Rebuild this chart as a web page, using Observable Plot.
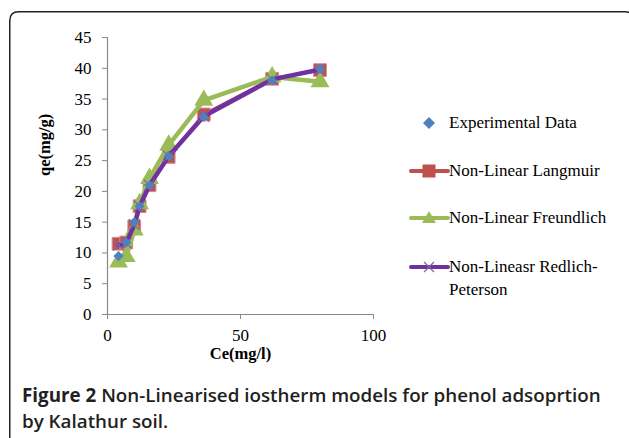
<!DOCTYPE html>
<html>
<head>
<meta charset="utf-8">
<script src="https://cdn.jsdelivr.net/npm/d3@7"></script>
<script src="https://cdn.jsdelivr.net/npm/@observablehq/plot@0.6"></script>
<style>
  html, body { margin: 0; padding: 0; background: #fff; }
  body { width: 629px; height: 438px; position: relative; overflow: hidden; }
  #frame { position: absolute; left: 0; top: 0; z-index: 10; pointer-events: none; }
  #chart { position: absolute; left: 0; top: 0; }
  #legend { position: absolute; left: 405px; top: 0; font-family: "Liberation Serif", "Times New Roman", serif; font-size: 17px; color: #000; }
  .item { position: absolute; left: 0; white-space: nowrap; }
  .item svg { position: absolute; left: 0; top: 0; }
  .item span { position: absolute; left: 44px; top: 0; line-height: 23px; }
  #caption { position: absolute; left: 22px; top: 382px; width: 600px; font-family: "Open Sans", "Noto Sans", sans-serif;
             font-size: 18.8px; line-height: 26px; color: #231f20; font-weight: 600; white-space: nowrap; }
  #caption b { font-weight: 700; }
</style>
</head>
<body>
<svg id="frame" width="629" height="438"><path d="M9.75,438 L9.75,20.75 Q9.75,11.75 18.75,11.75 L625,11.75 Q631,11.75 633,16" fill="none" stroke="#222" stroke-width="1.5"/></svg>
<div id="chart"></div>
<div id="legend"></div>
<div id="caption"><b>Figure 2</b> <span>Non-Linearised iostherm models for phenol adsoprtion</span><br><span>by Kalathur soil.</span></div>
<script>
const ce = [4.15, 7.05, 10.06, 12.07, 15.8, 23.0, 36.2, 61.9, 79.9];
const experimental = [9.5, 11.7, 15.0, 17.6, 21.0, 25.7, 32.1, 38.0, 39.9];
const langmuir = [11.5, 11.7, 14.3, 17.6, 21.0, 25.6, 32.5, 38.3, 39.7];
const freundlich = [8.5, 9.4, 13.7, 18.0, 22.1, 27.5, 34.8, 38.6, 37.8];
const redlich = [11.3, 11.6, 14.6, 17.6, 21.0, 25.7, 32.2, 38.2, 39.8];
const xTicks = [0, 50, 100];
const yTicks = [0, 5, 10, 15, 20, 25, 30, 35, 40, 45];

const seriesNames = ["Experimental Data", "Non-Linear Langmuir", "Non-Linear Freundlich", "Non-Lineasr Redlich-Peterson"];
const colors = { blue: "#4F81BD", red: "#C0504D", green: "#9BBB59", purple: "#7030A0", purpleMark: "#8064A2" };

const rows = (vals) => ce.map((c, i) => ({ ce: c, q: vals[i] }));
const expData = rows(experimental), lanData = rows(langmuir), freData = rows(freundlich), redData = rows(redlich);

const serif = "Liberation Serif, Times New Roman, serif";
const chart = Plot.plot({
  width: 400,
  height: 374,
  marginLeft: 107,
  marginRight: 27,
  marginTop: 37,
  marginBottom: 60,
  style: { fontFamily: serif, fontSize: "17px", color: "#000", background: "transparent", overflow: "visible" },
  x: { domain: [0, 100] },
  y: { domain: [0, 45] },
  marks: [
    Plot.ruleY([0], { stroke: "#888", strokeWidth: 1.2 }),
    Plot.ruleX([0], { stroke: "#888", strokeWidth: 1.2 }),
    Plot.axisX({ ticks: xTicks, tickSize: 5, tickPadding: 9, stroke: "#888", fontSize: 17, label: null }),
    Plot.axisY({ ticks: yTicks, tickSize: 5, tickPadding: 11, stroke: "#888", fontSize: 17, label: null }),
    Plot.text(["Ce(mg/l)"], { frameAnchor: "bottom", dy: 44, fontWeight: "bold", fontSize: 16.5 }),
    Plot.text(["qe(mg/g)"], { frameAnchor: "left", dx: -63, rotate: -90, fontWeight: "bold", fontSize: 16.5 }),
    Plot.line(lanData, { x: "ce", y: "q", stroke: colors.red, strokeWidth: 3 }),
    Plot.dot(lanData, { x: "ce", y: "q", symbol: "square", r: 7.2, fill: colors.red, stroke: "#d98a88", strokeWidth: 1 }),
    Plot.line(freData, { x: "ce", y: "q", stroke: colors.green, strokeWidth: 4.5 }),
    Plot.dot(freData, { x: "ce", y: "q", symbol: "triangle", r: 7, fill: colors.green }),
    Plot.line(redData, { x: "ce", y: "q", stroke: colors.purple, strokeWidth: 4.5 }),
    Plot.dot(redData, { x: "ce", y: "q", symbol: "times", r: 5, stroke: colors.purpleMark, strokeWidth: 1.2 }),
    Plot.dot(expData, { x: "ce", y: "q", symbol: "diamond2", r: 4.6, fill: colors.blue })
  ]
});
document.getElementById("chart").appendChild(chart);

// Legend
const legend = document.getElementById("legend");
const legendItems = [
  { name: seriesNames[0], top: 111, line: null, sym: "diamond", color: colors.blue },
  { name: seriesNames[1], top: 159, line: colors.red, sym: "square", color: colors.red },
  { name: seriesNames[2], top: 206, line: colors.green, sym: "triangle", color: colors.green },
  { name: seriesNames[3], top: 255, line: colors.purple, sym: "x", color: colors.purpleMark }
];
for (const it of legendItems) {
  const div = document.createElement("div");
  div.className = "item";
  div.style.top = it.top + "px";
  let shape = "";
  const cx = 24, cy = 12;
  if (it.sym === "diamond") shape = `<path d="M${cx},${cy-6}L${cx+6},${cy}L${cx},${cy+6}L${cx-6},${cy}Z" fill="${it.color}"/>`;
  if (it.sym === "square") shape = `<rect x="${cx-6.5}" y="${cy-6.5}" width="13" height="13" fill="${it.color}"/>`;
  if (it.sym === "triangle") shape = `<path d="M${cx},${cy-7}L${cx+7},${cy+5}L${cx-7},${cy+5}Z" fill="${it.color}"/>`;
  if (it.sym === "x") shape = `<path d="M${cx-5},${cy-5}L${cx+5},${cy+5}M${cx+5},${cy-5}L${cx-5},${cy+5}" stroke="${it.color}" stroke-width="1.2"/>`;
  const line = it.line ? `<line x1="6" x2="43" y1="${cy}" y2="${cy}" stroke="${it.line}" stroke-width="4" stroke-linecap="round"/>` : "";
  div.innerHTML = `<svg width="48" height="24">${line}${shape}</svg>`;
  const span = document.createElement("span");
  if (it.name === seriesNames[3]) {
    span.innerHTML = "Non-Lineasr Redlich-<br>Peterson";
  } else {
    span.textContent = it.name;
  }
  div.appendChild(span);
  legend.appendChild(div);
}
</script>
</body>
</html>
